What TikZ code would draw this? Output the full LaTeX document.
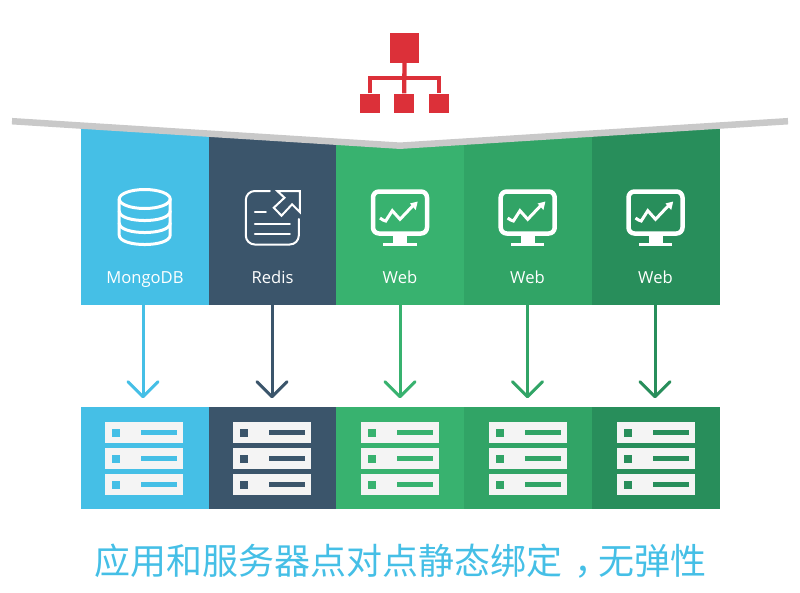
\documentclass[tikz,border=0pt]{standalone}
\usepackage{fontspec}
\setmainfont{Open Sans}
\newfontfamily\cjkfont{Noto Sans CJK SC}
\usetikzlibrary{arrows.meta}
\definecolor{mongoblue}{HTML}{45BFE6}
\definecolor{redisslate}{HTML}{3B556B}
\definecolor{webgreenA}{HTML}{38B26F}
\definecolor{webgreenB}{HTML}{31A466}
\definecolor{webgreenC}{HTML}{288E5B}
\definecolor{hubred}{HTML}{DC3039}
\definecolor{barwhite}{HTML}{F4F4F4}
\definecolor{bargray}{HTML}{C9C9C9}
\tikzset{
	upblock/.style={inner sep=0pt, minimum width=128pt, minimum height=185pt},
	lowblock/.style={inner sep=0pt, minimum width=128pt, minimum height=102pt},
	hubbox/.style={fill=hubred, inner sep=0pt, minimum size=19.5pt},
	blocktext/.style={text=white, font=\fontsize{16.6}{18}\selectfont, inner sep=0pt, anchor=base},
	pics/dbicon/.style={code={
		\draw[white, line width=3pt] (0,199) ellipse [x radius=25.5pt, y radius=9.5pt];
		\draw[white, line width=3pt] (-25.5,199) -- (-25.5,235) .. controls (-25.5,247.7) and (25.5,247.7) .. (25.5,235) -- (25.5,199);
		\draw[white, line width=3pt] (-25.5,211) .. controls (-25.5,223.7) and (25.5,223.7) .. (25.5,211);
		\draw[white, line width=3pt] (-25.5,223) .. controls (-25.5,235.7) and (25.5,235.7) .. (25.5,223);
	}},
	pics/cacheicon/.style={code={
		\draw[white, line width=2pt, rounded corners=9pt] (-2.5,191) -- (-26.5,191) -- (-26.5,244.5) -- (26.5,244.5) -- (26.5,219);
		\draw[white, line width=2pt] (-17.5,211.5) -- (-6.5,211.5);
		\draw[white, line width=2pt] (-17.5,223.5) -- (17.5,223.5);
		\draw[white, line width=2pt] (-17.5,233.5) -- (17.5,233.5);
		\draw[white, line width=2pt, line join=miter] (5,191) -- (27.5,191) -- (27.5,212) -- (19.8,204.3) -- (9.2,215.7) -- (1.5,207.7) -- (12.2,197.7) -- cycle;
	}},
	pics/screenicon/.style={code={
		\draw[white, line width=4.5pt, rounded corners=6pt] (-27,191.5) rectangle (27,233.5);
		\fill[white] (-6.7,235) rectangle (7.3,243);
		\fill[white] (-16.7,242.7) rectangle (16.7,246);
		\draw[white, line width=3pt, line join=miter, line cap=butt] (-20,218) -- (-17,220) -- (-14.3,221) -- (-7.7,210.7) -- (0,219.3) -- (14.5,204);
		\fill[white] (17.7,201.5) -- (10,203.5) -- (15.7,210) -- cycle;
	}},
	pics/serverrack/.style={code={
		\foreach \sy in {422,448,474} {
			\fill[barwhite] (-40,\sy) rectangle (38,\sy+21);
			\fill[#1] (-33,\sy+7) rectangle (-25,\sy+15);
			\fill[#1] (-4,\sy+8) rectangle (32,\sy+13);
		}
	}}
}
\begin{document}
\begin{tikzpicture}[x=1pt, y=-1pt, line join=round, line cap=round]
	\useasboundingbox (0,0) rectangle (800,592);

	% Upper and lower blocks, arrows between them
	\foreach \n/\cx/\shft/\rk/\col/\txt in {A/145/-2/145/mongoblue/MongoDB, B/272.5/-.5/272.5/redisslate/Redis, C/400/0/401/webgreenA/Web, D/527.5/0/529/webgreenB/Web, E/655.5/-.5/656.5/webgreenC/Web} {
		\node[upblock, fill=\col] (up\n) at (\cx,212.5) {};
		\node[lowblock, fill=\col] (low\n) at (\cx,458) {};
		\node[blocktext] (lab\n) at (\cx,283.3) {\txt};
		\draw[\col, line width=3pt, -{Straight Barb[length=15pt, width=30pt, round]}, shorten >=8.5pt] ([xshift=\shft pt]up\n.south) -- ([xshift=\shft pt]low\n.north);
		\pic at (\rk,0) {serverrack=\col};
	}

	% Cut the block tops along the bar
	\coordinate (barL) at (12,121.2);
	\coordinate (barM) at (400,145.7);
	\coordinate (barR) at (788,121.2);
	\fill[white] (barL) -- (barM) -- (barR) -- (788,100) -- (12,100) -- cycle;
	\draw[bargray, line width=6.5pt, line cap=butt, line join=miter] (barL) -- (barM) -- (barR);

	% Icons in the upper blocks
	\pic at (144.7,0) {dbicon};
	\pic at (272.3,0) {cacheicon};
	\foreach \cx in {400,527.7,655.5} {
		\pic at (\cx,0) {screenicon};
	}

	% Red hub on top
	\node[hubbox, minimum size=29.5pt] (hubT) at (404.5,48) {};
	\node[hubbox] (hubL) at (370.2,103.3) {};
	\node[hubbox] (hubM) at (404.2,103.3) {};
	\node[hubbox] (hubR) at (439.2,103.3) {};
	\coordinate (hubJ) at (404.2,78.2);
	\draw[hubred, line width=4.3pt, line cap=butt] (hubT.south) -- (hubM.north);
	\draw[hubred, line width=4.3pt, line cap=butt, line join=miter] (hubL.north) |- (hubJ) -| (hubR.north);

	% Caption
	\node[text=mongoblue, inner sep=0pt, font=\cjkfont\fontsize{36}{40}\selectfont] (caption) at (400.5,561) {应用和服务器点对点静态绑定\kern12pt ，\kern-12pt 无弹性};
\end{tikzpicture}
\end{document}
